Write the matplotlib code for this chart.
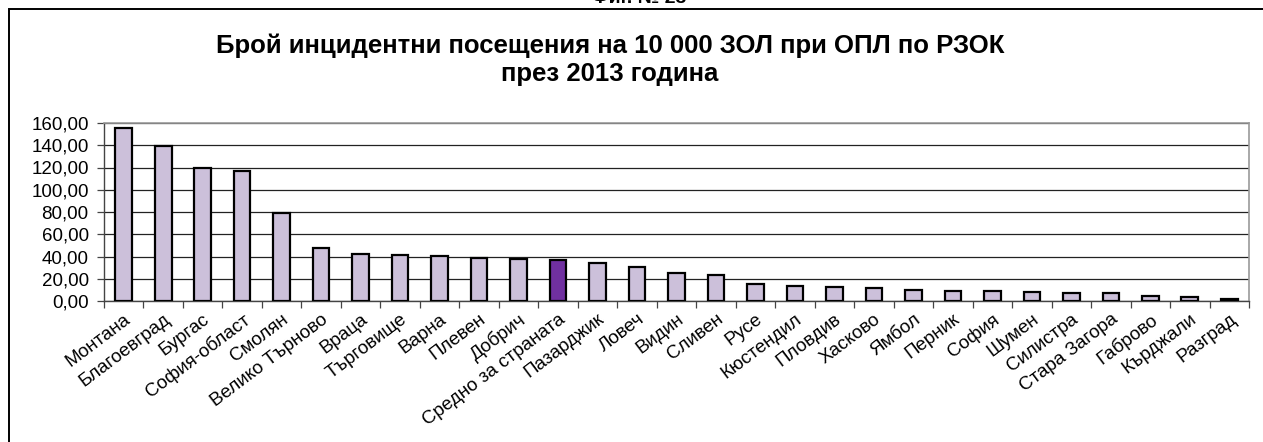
import matplotlib.pyplot as plt
from matplotlib.patches import Rectangle
from matplotlib.ticker import FuncFormatter, FixedLocator

regions = [
    "Монтана", "Благоевград", "Бургас", "София-област", "Смолян",
    "Велико Търново", "Враца", "Търговище", "Варна", "Плевен", "Добрич",
    "Средно за страната", "Пазарджик", "Ловеч", "Видин", "Сливен", "Русе",
    "Кюстендил", "Пловдив", "Хасково", "Ямбол", "Перник", "София", "Шумен",
    "Силистра", "Стара Загора", "Габрово", "Кърджали", "Разград",
]
visits = [
    155.8, 139.3, 119.3, 116.6, 79.1, 47.9, 42.6, 41.5, 40.7, 38.6, 38.0,
    36.8, 34.5, 30.9, 25.5, 23.7, 15.3, 13.5, 12.4, 11.7, 9.9, 9.0, 9.0,
    8.1, 7.2, 7.2, 4.5, 3.3, 1.8,
]
average_label = "Средно за страната"

plt.rcParams["font.family"] = ["Liberation Sans", "DejaVu Sans"]

fig = plt.figure(figsize=(12.63, 4.42), dpi=100)
ax = fig.add_axes([104 / 1263, 1 - 301 / 442, (1249 - 104) / 1263, (301 - 123) / 442])

colors = ["#7030A0" if r == average_label else "#CCC0DA" for r in regions]
x = list(range(len(regions)))
ax.bar(x, visits, width=0.42, color=colors, edgecolor="black", linewidth=1.6, zorder=3)

ax.set_xlim(-0.5, len(regions) - 0.5)
ax.set_ylim(0, 160)
ax.set_yticks(range(0, 161, 20))
ax.yaxis.set_major_formatter(FuncFormatter(lambda v, _: f"{v:.2f}".replace(".", ",")))
ax.grid(axis="y", color="#222222", linewidth=0.9, zorder=0)

ax.set_xticks(x)
ax.set_xticklabels(regions, rotation=37, ha="right", rotation_mode="anchor", fontsize=13.5)
ax.xaxis.set_minor_locator(FixedLocator([i - 0.5 for i in range(len(regions) + 1)]))
ax.tick_params(axis="x", which="major", length=0, pad=7)
ax.tick_params(axis="x", which="minor", length=5, width=0.9, color="#444444")
ax.tick_params(axis="y", length=5, width=0.9, color="#444444", labelsize=13.5, pad=6)

for side in ("top", "right"):
    ax.spines[side].set_color("#999999")
    ax.spines[side].set_linewidth(1.2)
for side in ("left", "bottom"):
    ax.spines[side].set_color("#444444")
    ax.spines[side].set_linewidth(1.0)

fig.text(0.483, 0.865, "Брой инцидентни посещения на 10 000 ЗОЛ при ОПЛ по РЗОК\nпрез 2013 година",
         ha="center", va="center", fontsize=18.5, fontweight="bold", linespacing=1.25)
fig.text(0.506, 0.994, "Фиг. № 23", ha="center", va="baseline", fontsize=14, fontweight="bold")

# chart frame, open on the right
frame = Rectangle((9 / 1263, -0.1), 2, 1 - 9 / 442 + 0.1, transform=fig.transFigure,
                  fill=False, edgecolor="black", linewidth=1.4)
fig.patches.append(frame)

fig.savefig("out.png", dpi=100)
